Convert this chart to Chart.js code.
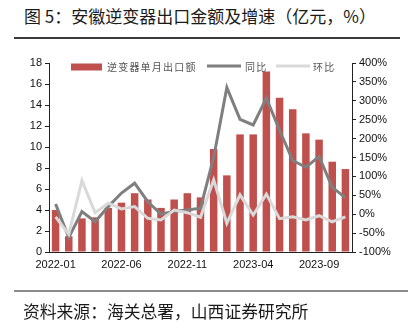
<!DOCTYPE html>
<html>
<head>
<meta charset="utf-8">
<script src="https://cdn.jsdelivr.net/npm/chart.js@4"></script>
<style>
  html, body { margin: 0; padding: 0; background: #fff; }
  #wrap { position: relative; width: 408px; height: 331px; overflow: hidden; }
  #c { position: absolute; left: 0; top: 0; }
  .title { position: absolute; left: 24px; top: 4px; font: 17px "Noto Sans CJK SC", sans-serif; color: #1a1a1a; white-space: nowrap; line-height: 24px; }
  .src { position: absolute; left: 23px; top: 299px; font: 16.8px "Noto Sans CJK SC", sans-serif; color: #1a1a1a; white-space: nowrap; line-height: 24px; }
  .rule1 { position: absolute; left: 14px; width: 386px; top: 37px; height: 2px; background: #3a3a3a; }
  .rule2 { position: absolute; left: 14px; width: 394px; top: 290px; height: 2px; background: #8a8a8a; }
</style>
</head>
<body>
<div id="wrap">
  <div class="title">图 5：安徽逆变器出口金额及增速（亿元，%）</div>
  <div class="rule1"></div>
  <canvas id="c" width="408" height="331"></canvas>
  <div class="rule2"></div>
  <div class="src">资料来源：海关总署，山西证券研究所</div>
</div>
<script>
const categories = ['2022-01','2022-02','2022-03','2022-04','2022-05','2022-06','2022-07','2022-08','2022-09','2022-10','2022-11','2022-12',
                    '2023-01','2023-02','2023-03','2023-04','2023-05','2023-06','2023-07','2023-08','2023-09','2023-10','2023-11'];
const tickLabels = ['2022-01','2022-06','2022-11','2023-04','2023-09'];
const exportValues = [4.0,1.5,3.2,3.3,4.2,4.7,5.6,5.0,4.2,5.0,5.6,5.2,9.8,7.3,11.2,11.2,17.2,14.7,13.6,11.3,10.7,8.6,7.9];
const yoyValues = [27,-62,7,-20,20,56,82,33,0,8,11,16,150,335,251,236,307,222,142,124,153,71,44];
const momValues = [-7,-53,89,4,29,14,20,-11,-15,11,4,-8,91,-24,51,-2,53,-12,-7,-15,-4,-20,-7];
const seriesNames = ['逆变器单月出口额','同比','环比'];

const tickFont = { family: '"Liberation Sans", Arial, sans-serif', size: 11 };

const legendPlugin = {
  id: 'customLegend',
  afterDraw(chart) {
    const ctx = chart.ctx;
    const ds = chart.data.datasets;
    ctx.save();
    ctx.font = '10px "Noto Sans CJK SC", serif';
    ctx.letterSpacing = '1.2px';
    ctx.textBaseline = 'middle';
    const cy = 67;
    ctx.fillStyle = ds[0].backgroundColor;
    ctx.fillRect(71, cy - 3.5, 31, 7);
    ctx.fillStyle = '#555';
    ctx.fillText(ds[0].label, 107, cy);
    const items = [[ds[1], 207, 245], [ds[2], 276, 313]];
    items.forEach(([d, x0, tx]) => {
      ctx.strokeStyle = d.borderColor;
      ctx.lineWidth = 3;
      ctx.beginPath();
      ctx.moveTo(x0, cy - 1);
      ctx.lineTo(x0 + 34, cy - 1);
      ctx.stroke();
      ctx.fillStyle = '#555';
      ctx.fillText(d.label, tx, cy);
    });
    ctx.restore();
  }
};

new Chart(document.getElementById('c'), {
  data: {
    labels: categories,
    datasets: [
      { type: 'bar', label: seriesNames[0], data: exportValues, yAxisID: 'y', backgroundColor: '#C0504D',
        categoryPercentage: 1.0, barPercentage: 0.57, order: 3 },
      { type: 'line', label: seriesNames[1], data: yoyValues, yAxisID: 'y1', borderColor: '#7F7F7F',
        borderWidth: 3, pointRadius: 0, tension: 0, fill: false, order: 2 },
      { type: 'line', label: seriesNames[2], data: momValues, yAxisID: 'y1', borderColor: '#D9D9D9',
        borderWidth: 3, pointRadius: 0, tension: 0, fill: false, order: 1 }
    ]
  },
  options: {
    responsive: false,
    animation: false,
    devicePixelRatio: 1,
    layout: { padding: { left: 0, right: 0, top: 63, bottom: 57 } },
    plugins: { legend: { display: false }, tooltip: { enabled: false }, title: { display: false } },
    scales: {
      x: {
        grid: { display: false, drawTicks: false },
        border: { display: true, color: '#222', width: 1 },
        afterFit(s) { s.height = 22; },
        ticks: {
          autoSkip: false, maxRotation: 0, minRotation: 0, padding: 6, color: '#111', font: tickFont,
          callback(v, i) { return tickLabels.includes(categories[i]) ? categories[i] : ''; }
        }
      },
      y: {
        position: 'left', min: 0, max: 18,
        afterFit(s) { s.width = 49; },
        grid: { drawOnChartArea: false, drawTicks: true, tickLength: 4, color: '#222' },
        border: { display: true, color: '#222', width: 1 },
        ticks: { stepSize: 2, padding: 3, color: '#111', font: tickFont }
      },
      y1: {
        position: 'right', min: -100, max: 400,
        afterFit(s) { s.width = 56; },
        grid: { drawOnChartArea: false, drawTicks: true, tickLength: 4, color: '#222' },
        border: { display: true, color: '#222', width: 1 },
        ticks: { stepSize: 50, padding: 3, color: '#111', font: tickFont, callback: v => v + '%' }
      }
    }
  },
  plugins: [legendPlugin]
});
</script>
</body>
</html>
